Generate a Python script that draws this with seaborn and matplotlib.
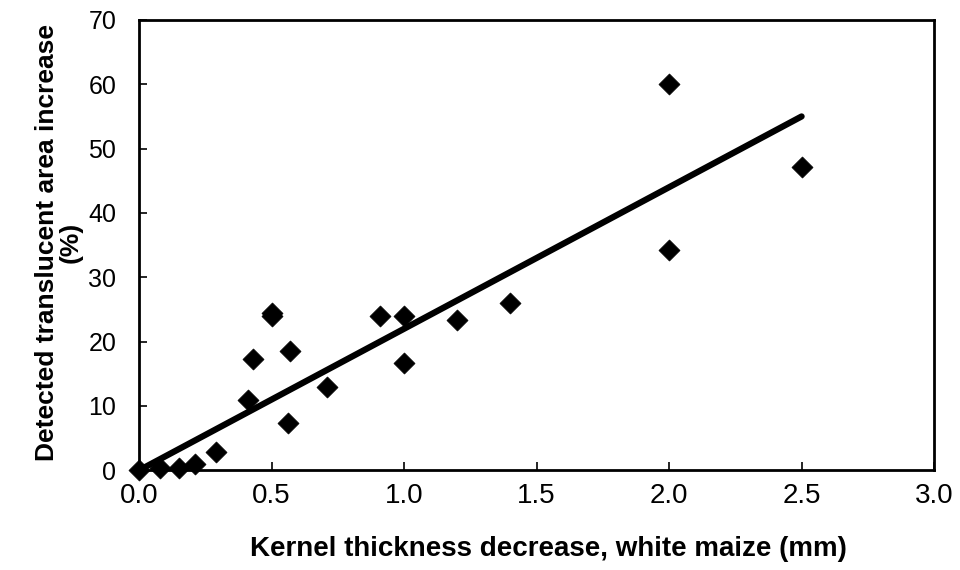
import matplotlib
matplotlib.use("Agg")
import matplotlib.pyplot as plt
import seaborn as sns
import pandas as pd

# Data
thickness_decrease = [0.0, 0.08, 0.15, 0.21, 0.29, 0.41, 0.43, 0.50, 0.50, 0.57, 0.56,
                      0.71, 0.91, 1.0, 1.0, 1.2, 1.4, 2.0, 2.0, 2.5]
translucent_increase = [0.0, 0.4, 0.4, 0.9, 2.9, 10.9, 17.3, 24.5, 24.0, 18.6, 7.3,
                        13.0, 24.0, 24.0, 16.6, 23.4, 26.0, 60.0, 34.2, 47.2]
fit_x = [0.0, 2.5]
fit_y = [0.0, 55.0]

x_ticks = [0.0, 0.5, 1.0, 1.5, 2.0, 2.5, 3.0]
y_ticks = [0, 10, 20, 30, 40, 50, 60, 70]

sns.set_theme(style="white")
plt.rcParams['font.family'] = ['Liberation Sans', 'DejaVu Sans']

df = pd.DataFrame({"x": thickness_decrease, "y": translucent_increase})
fit = pd.DataFrame({"x": fit_x, "y": fit_y})

fig = plt.figure(figsize=(9.6, 5.7), dpi=100)
ax = fig.add_axes([0.145, 0.175, 0.828, 0.79])

sns.lineplot(data=fit, x="x", y="y", ax=ax, color="black", linewidth=4.5, zorder=2)
sns.scatterplot(data=df, x="x", y="y", ax=ax, marker="D", s=115, color="black",
                edgecolor="black", linewidth=0.5, zorder=3, clip_on=False)

ax.set_xlim(0, 3.0)
ax.set_ylim(0, 70)
ax.set_xticks(x_ticks)
ax.set_xticklabels([f"{t:.1f}" for t in x_ticks])
ax.set_yticks(y_ticks)
ax.set_yticklabels([str(t) for t in y_ticks])
ax.tick_params(axis="both", direction="in", length=6, width=1.2, color="black",
               labelcolor="black", bottom=True, left=True)
ax.tick_params(axis="x", pad=9, labelsize=20)
ax.tick_params(axis="y", pad=16.5, labelsize=18)

for sp in ax.spines.values():
    sp.set_visible(True)
    sp.set_color("black")
    sp.set_linewidth(2.0)

ax.set_xlabel("Kernel thickness decrease, white maize (mm)", fontsize=20,
              fontweight="bold", color="black")
ax.xaxis.set_label_coords(0.515, -0.145)
ax.set_ylabel("Detected translucent area increase\n(%)", fontsize=19,
              fontweight="bold", color="black", linespacing=1.0)
ax.yaxis.set_label_coords(-0.071, 0.505)

fig.savefig("out.png", dpi=100, facecolor="white")
